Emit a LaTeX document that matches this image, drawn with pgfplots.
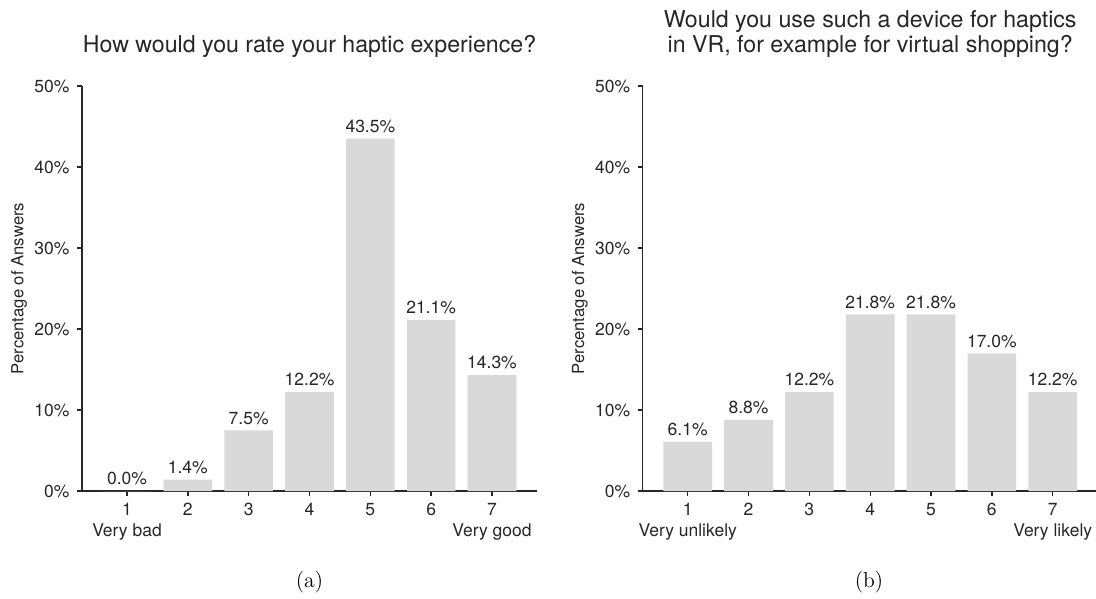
\documentclass[border=0pt]{standalone}
\usepackage{fontspec}
\setsansfont{TeX Gyre Heros}
\renewcommand{\familydefault}{\sfdefault}
\usepackage{pgfplots}
\pgfplotsset{compat=1.18}
\definecolor{barc}{HTML}{D9D9D9}
\definecolor{axc}{HTML}{262626}
\pgfplotsset{mystyle/.style={
  scale only axis, width=273pt, height=243pt,
  ybar, bar width=0.8, bar shift=0pt,
  xmin=0.26, xmax=7.74, ymin=0, ymax=50,
  axis x line*=bottom, axis y line*=left,
  axis line style={axc, line width=0.8pt, -},
  every tick/.style={axc, line width=0.8pt},
  tick align=outside, major tick length=3pt,
  xtick={1,...,7}, ytick={0,10,...,50},
  yticklabel={\pgfmathprintnumber{\tick}\%},
  /pgf/number format/assume math mode=true,
  tick label style={font=\fontsize{10.5}{12.5}\selectfont, text=axc},
  xticklabel style={align=center, anchor=north, yshift=-1pt},
  yticklabel style={xshift=-1pt},
  ylabel={Percentage of Answers},
  ylabel style={at={(axis description cs:-0.138,0.5)}, anchor=center, font=\fontsize{10}{12}\selectfont, text=axc},
  title style={at={(axis description cs:0.5,1)}, anchor=base, inner sep=0pt, yshift=14.4pt, align=center, font=\fontsize{13.9}{14.4}\selectfont, text=axc},
  nodes near coords={\pgfmathprintnumber[fixed,fixed zerofill,precision=1]{\pgfplotspointmeta}\%},
  every node near coord/.append style={font=\fontsize{10.5}{12.5}\selectfont, text=axc, /pgf/number format/assume math mode=true},
  clip=false,
}}
\begin{document}
\begin{tikzpicture}
\path[use as bounding box] (-49.2pt,-64.2pt) rectangle (608.4pt,294.6pt);
\begin{axis}[mystyle,
  title={How would you rate your haptic experience?},
  xticklabels={1\\Very bad,2,3,4,5,6,7\\Very good}]
\addplot[fill=barc, draw=none] coordinates {(1,0.0) (2,1.4) (3,7.5) (4,12.2) (5,43.5) (6,21.1) (7,14.3)};
\end{axis}
\begin{axis}[mystyle, at={(336.4pt,0pt)},
  title={Would you use such a device for haptics\\in VR, for example for virtual shopping?},
  xticklabels={1\\Very unlikely,2,3,4,5,6,7\\Very likely}]
\addplot[fill=barc, draw=none] coordinates {(1,6.1) (2,8.8) (3,12.2) (4,21.8) (5,21.8) (6,17.0) (7,12.2)};
\end{axis}
\node[font=\rmfamily\fontsize{13}{15}\selectfont] at (136.5pt,-54.6pt) {(a)};
\node[font=\rmfamily\fontsize{13}{15}\selectfont] at (472.2pt,-54.6pt) {(b)};
\end{tikzpicture}
\end{document}
